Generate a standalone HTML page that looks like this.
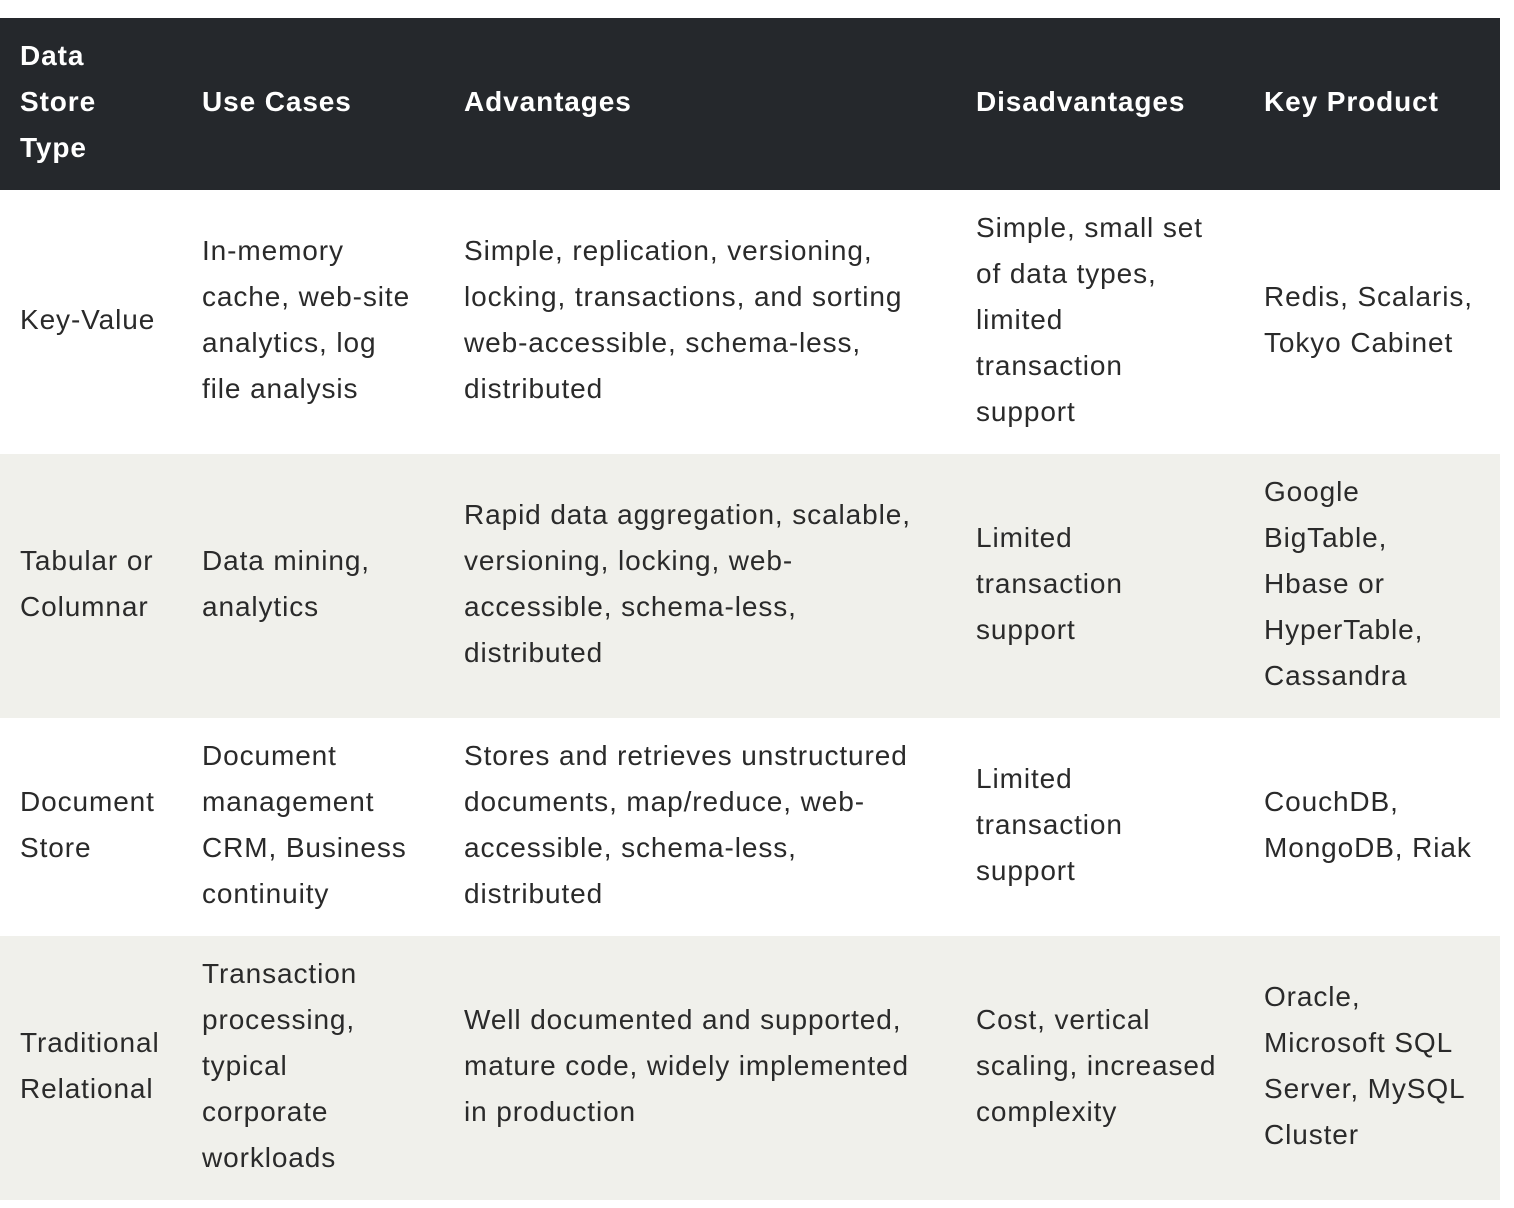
<!DOCTYPE html>
<html><head><meta charset="utf-8">
<style>
html,body{margin:0;padding:0;background:#fff;width:1514px;height:1208px;overflow:hidden}
table{position:absolute;left:0;top:18px;width:1500px;border-collapse:collapse;table-layout:fixed;
font-family:"Liberation Sans",sans-serif;font-size:28px;letter-spacing:0.9px;line-height:46px;color:#2a2a2a}
td,th{padding:0 0 5px 20px;vertical-align:middle;text-align:left;white-space:nowrap}
th{background:#25282c;color:#fff;font-weight:bold;height:167px}
tr.g td{background:#f0f0eb}
</style></head><body>
<table>
<colgroup><col style="width:182px"><col style="width:262px"><col style="width:512px"><col style="width:288px"><col style="width:256px"></colgroup>
<tr><th>Data<br>Store<br>Type</th><th>Use Cases</th><th>Advantages</th><th>Disadvantages</th><th>Key Product</th></tr>
<tr style="height:264px"><td>Key-Value</td><td>In-memory<br>cache, web-site<br>analytics, log<br>file analysis</td><td>Simple, replication, versioning,<br>locking, transactions, and sorting<br>web-accessible, schema-less,<br>distributed</td><td>Simple, small set<br>of data types,<br>limited<br>transaction<br>support</td><td>Redis, Scalaris,<br>Tokyo Cabinet</td></tr>
<tr class="g" style="height:264px"><td>Tabular or<br>Columnar</td><td>Data mining,<br>analytics</td><td>Rapid data aggregation, scalable,<br>versioning, locking, web-<br>accessible, schema-less,<br>distributed</td><td>Limited<br>transaction<br>support</td><td>Google<br>BigTable,<br>Hbase or<br>HyperTable,<br>Cassandra</td></tr>
<tr style="height:218px"><td>Document<br>Store</td><td>Document<br>management<br>CRM, Business<br>continuity</td><td>Stores and retrieves unstructured<br>documents, map/reduce, web-<br>accessible, schema-less,<br>distributed</td><td>Limited<br>transaction<br>support</td><td>CouchDB,<br>MongoDB, Riak</td></tr>
<tr class="g" style="height:264px"><td>Traditional<br>Relational</td><td>Transaction<br>processing,<br>typical<br>corporate<br>workloads</td><td>Well documented and supported,<br>mature code, widely implemented<br>in production</td><td>Cost, vertical<br>scaling, increased<br>complexity</td><td>Oracle,<br>Microsoft SQL<br>Server, MySQL<br>Cluster</td></tr>
</table>
</body></html>
